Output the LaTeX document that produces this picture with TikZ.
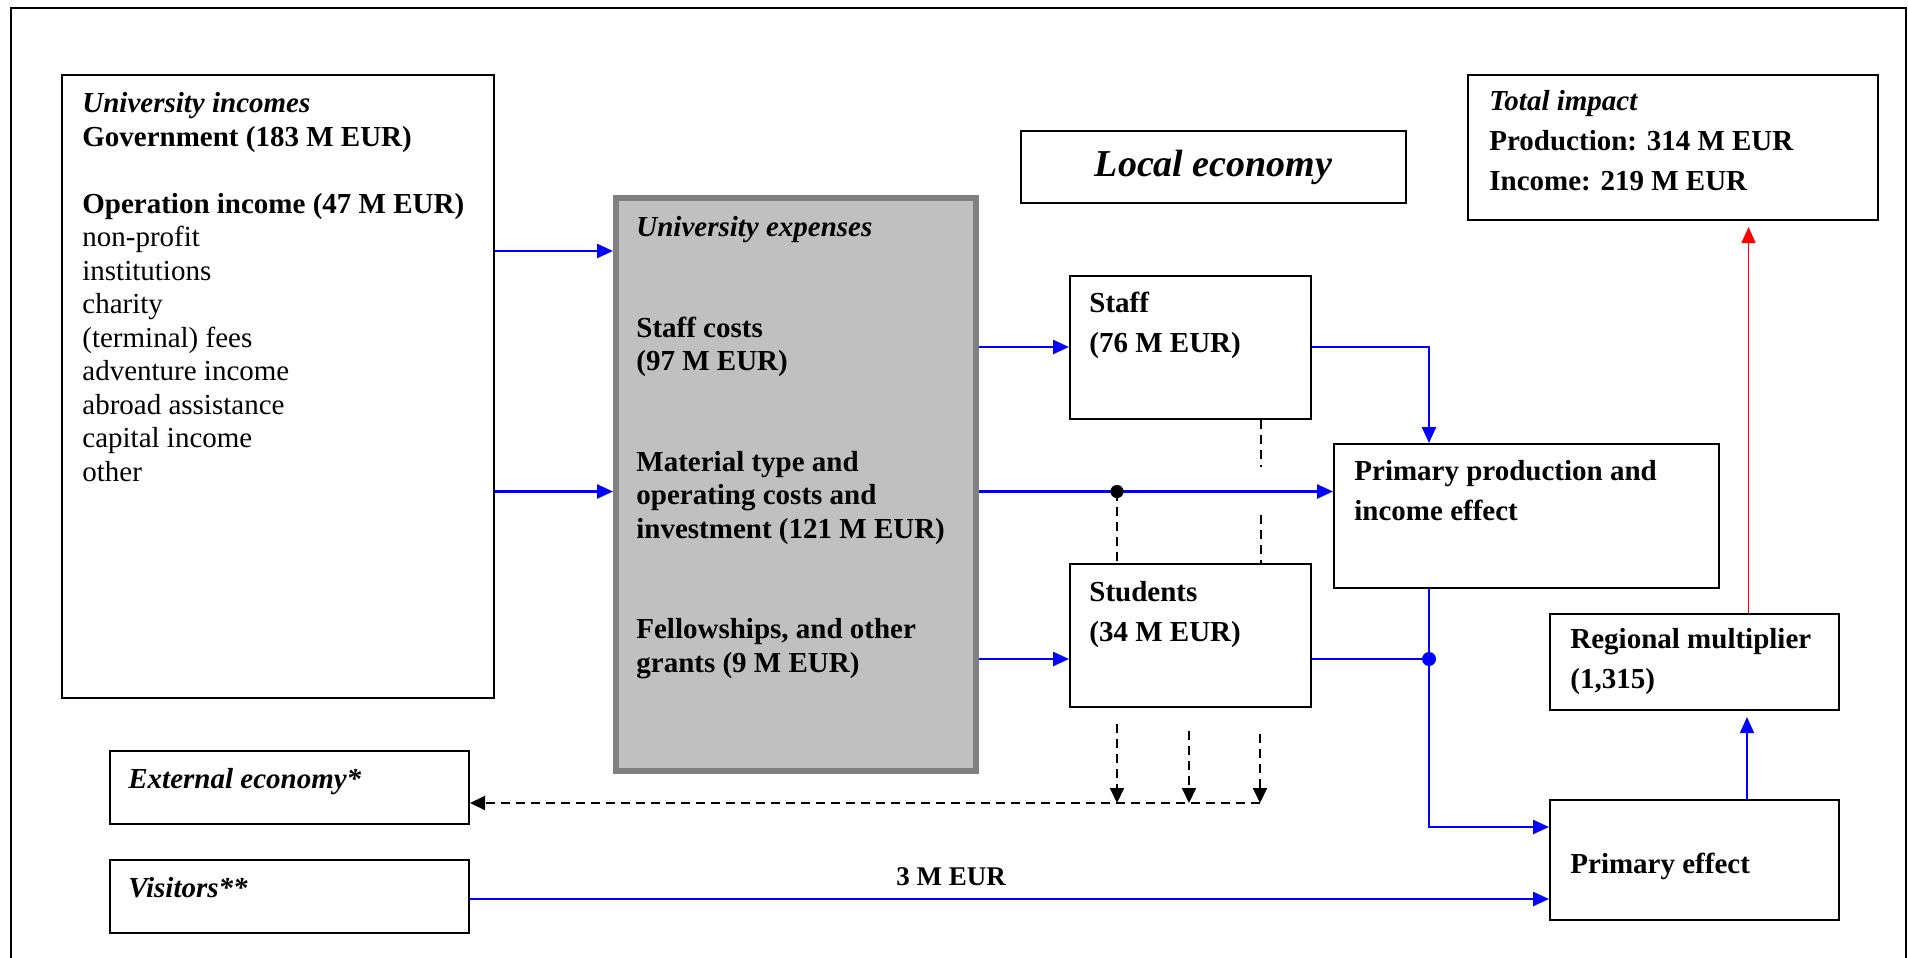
\documentclass[tikz,border=0pt]{standalone}
\usepackage{fontspec}
\setmainfont{Liberation Serif}
\usepackage{tikz}
\usetikzlibrary{
  arrows.meta,
  positioning
}
\definecolor{flowblue}{RGB}{0,0,255}
\definecolor{expgray}{RGB}{192,192,192}
\definecolor{expframe}{RGB}{128,128,128}

\begin{document}
\begin{tikzpicture}[
      x=0.5pt, y=-0.5pt,
      box/.style={
         rectangle,
         draw=black,
         line width=1pt,
         inner sep=0pt,
         anchor=north west
      },
      expbox/.style={
         box,
         draw=expframe,
         fill=expgray,
         line width=3pt
      },
      txt/.style={
         anchor=base west,
         align=left,
         inner sep=0pt,
         font=\fontsize{14.5}{16.75}\selectfont\bfseries
      },
      wide txt/.style={
         txt,
         font=\fontsize{14.5}{20}\selectfont\bfseries
      },
      point/.style={coordinate},
      dot/.style={circle, inner sep=0pt, minimum size=6.6pt},
      >={Triangle[length=8pt,width=7pt]},
      tip/.style={->,shorten >=0pt},
      flow/.style={tip,draw=flowblue,line width=1.25pt},
      thin flow/.style={tip,draw=flowblue,line width=0.8pt},
      total/.style={tip,draw=red,line width=0.8pt},
      leak/.style={draw=black,line width=1pt,dash pattern=on 4.5pt off 3pt},
      hv path/.style={to path={-| (\tikztotarget)}},
      vh path/.style={to path={|- (\tikztotarget)}}
    ]
    \useasboundingbox (0,0) rectangle (1908,958);
    \draw[line width=0.6pt] (11,8) rectangle (1906,980);

    \node[box, minimum width=216pt, minimum height=311.5pt] (inc) at (61,74) {};
    \node[expbox, minimum width=180pt, minimum height=286.5pt] (exp) at (613,195) {};
    \node[box, anchor=center, minimum width=192.5pt, minimum height=36pt,
          font=\fontsize{19}{22}\selectfont\bfseries\itshape] (loc) at (1213.5,167) {Local economy};
    \node[box, minimum width=205pt, minimum height=72.5pt] (tot) at (1467,74) {};
    \node[box, minimum width=120.5pt, minimum height=71.5pt] (staff) at (1069,275) {};
    \node[box, minimum width=120.5pt, minimum height=71.5pt] (stud) at (1069,563) {};
    \node[box, minimum width=192.5pt, minimum height=72pt] (prim) at (1333,443) {};
    \node[box, minimum width=144.5pt, minimum height=48pt] (reg) at (1549,613) {};
    \node[box, minimum width=144.5pt, minimum height=60pt] (peff) at (1549,799) {};
    \node[box, minimum width=179.5pt, minimum height=36.5pt] (ext) at (109,750) {};
    \node[box, minimum width=179.5pt, minimum height=36.5pt] (vis) at (109,859) {};

    % base of a multi-line text = its last line
    \node[txt] (incT) at (82,481) {\textit{University incomes}\\ Government (183 M EUR)\\ \mbox{}\\
       Operation income (47 M EUR)\\ \textmd{non-profit}\\ \textmd{institutions}\\ \textmd{charity}\\
       \textmd{(terminal) fees}\\ \textmd{adventure income}\\ \textmd{abroad assistance}\\
       \textmd{capital income}\\ \textmd{other}};
    \node[txt] (expT) at (636,672) {\textit{University expenses}\\ \mbox{}\\ \mbox{}\\ Staff costs\\
       (97 M EUR)\\ \mbox{}\\ \mbox{}\\ Material type and\\ operating costs and\\
       investment (121 M EUR)\\ \mbox{}\\ \mbox{}\\ Fellowships, and other\\ grants (9 M EUR)};
    \node[wide txt] (staffT) at (1089,352.5) {Staff\\ (76 M EUR)};
    \node[wide txt] (studT) at (1089,641) {Students\\ (34 M EUR)};
    \node[wide txt] (primT) at (1354,520) {Primary production and\\ income effect};
    \node[wide txt] (regT) at (1570,688) {Regional multiplier\\ (1,315)};
    \node[txt] (peffT) at (1570,873) {Primary effect};
    \node[wide txt] (totT) at (1489,190) {\textit{Total impact}\\ Production: 314 M EUR\\ Income: 219 M EUR};
    \node[txt] (extT) at (128,788) {\textit{External economy*}};
    \node[txt] (visT) at (128,897) {\textit{Visitors**}};

    \coordinate (r1) at (0,251);
    \coordinate (r2) at (0,347);
    \coordinate (r3) at (0,491.5);
    \coordinate (r4) at (0,659);
    \coordinate (r5) at (0,827);
    \coordinate (r6) at (0,899);
    \coordinate (g1) at (0,467);
    \coordinate (g2) at (0,515);
    \coordinate (c1) at (1429,0);
    \coordinate (c2) at (1747,0);
    \coordinate (c3) at (1748.5,0);
    \coordinate (c4) at (1261,0);
    \coordinate (s1) at (1117,724);
    \coordinate (s2) at (1189,731);
    \coordinate (s3) at (1260,734);
    \coordinate (e0) at (1260,803);

    \draw[flow] (inc.east |- r1) -- (exp.west |- r1);
    \draw[flow] (inc.east |- r3) -- (exp.west |- r3);
    \draw[flow] (exp.east |- r2) -- (staff.west |- r2);
    \draw[flow] (exp.east |- r3) -- (prim.west |- r3);
    \draw[flow] (exp.east |- r4) -- (stud.west |- r4);
    \draw[flow] (staff.east |- r2) to[hv path] (prim.north -| c1);
    \draw[flow, -] (stud.east |- r4) -- (c1 |- r4);
    \draw[flow] (prim.south -| c1) to[vh path] (peff.west |- r5);
    \draw[flow] (vis.east |- r6) -- node[pos=0.446, above=6pt, inner sep=0pt,
       font=\fontsize{13.5}{16}\selectfont\bfseries] (vlab) {3 M EUR} (peff.west |- r6);
    \draw[thin flow, shorten >=3pt] (peff.north -| c2) -- (reg.south -| c2);
    \draw[total, shorten >=3pt] (reg.north -| c3) -- (tot.south -| c3);

    \node[dot, fill=black] (d1) at (1117,491.5) {};
    \draw[leak] (d1.center) -- (stud.north -| d1);
    \draw[leak] (staff.south -| c4) -- (c4 |- g1) (c4 |- g2) -- (stud.north -| c4);
    \node[dot, fill=flowblue, minimum size=7pt] (d2) at (c1 |- r4) {};
    \foreach \s in {s1,s2,s3}
       \draw[leak, ->, >={Triangle[length=7.5pt,width=7pt]}] (\s) -- (\s |- e0);
    \draw[leak, ->, >={Triangle[length=7.5pt,width=7pt]}] (e0) -- (ext.east |- e0);
\end{tikzpicture}
\end{document}
